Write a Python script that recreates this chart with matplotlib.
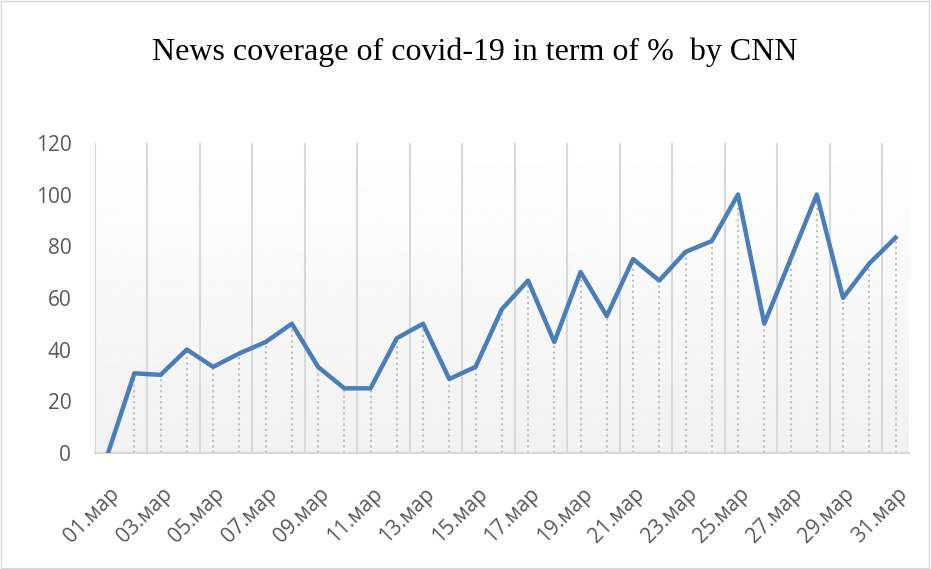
import numpy as np
import matplotlib
matplotlib.use('Agg')
import matplotlib.pyplot as plt
import matplotlib.transforms as mtransforms

# day of March and coverage share in %
days = list(range(1, 32))
coverage = [0, 30.8, 30.2, 40, 33.3, 38.5, 42.9, 50, 33.3, 25, 25,
            44.4, 50, 28.6, 33.3, 55.6, 66.7, 42.9, 70, 53, 75, 66.7,
            77.8, 82, 100, 50, 75, 100, 60, 73.3, 83.3]
tick_days = days[::2]
tick_labels = ['%02d.мар' % d for d in tick_days]

fig = plt.figure(figsize=(9.31, 5.69), dpi=100)
ax = fig.add_axes([0.102, 0.204, 0.874, 0.545])

# border round the whole chart
fig.patches.append(plt.Rectangle((0.001, 0.001), 0.997, 0.997, transform=fig.transFigure,
                                 fill=False, edgecolor='#d9d9d9', lw=1))

# soft grey gradient in plot area
grad = np.linspace(1.0, 0.945, 256).reshape(-1, 1)
ax.imshow(grad, cmap='gray', vmin=0, vmax=1, aspect='auto',
          extent=[0.5, 31.5, 0, 120], origin='upper', zorder=0)

# vertical gridlines every two days
for g in np.arange(0.5, 31.5, 2):
    ax.axvline(g, color='#d9d9d9', lw=1.5, zorder=1)

# drop lines from each point
ax.vlines(days, 0, coverage, colors='#bfbfbf', linestyles=':', lw=1.5, zorder=2)

ax.plot(days, coverage, color='#4a7ebb', lw=3.2, solid_joinstyle='round', zorder=3)

ax.set_xlim(0.5, 31.5)
ax.set_ylim(0, 120)
ax.set_yticks(np.arange(0, 121, 20))
ax.set_xticks(tick_days)
ax.set_xticklabels(tick_labels, rotation=45, ha='right', va='top', rotation_mode='anchor')

for s in ['top', 'right', 'left']:
    ax.spines[s].set_visible(False)
ax.spines['bottom'].set_color('#d9d9d9')
ax.spines['bottom'].set_linewidth(1.5)
ax.tick_params(length=0, labelsize=15, labelcolor='#595959')
ax.tick_params(axis='y', pad=17)
ax.tick_params(axis='x', pad=22)
shift = mtransforms.ScaledTranslation(1 / 100, 0, fig.dpi_scale_trans)
for lab in ax.get_xticklabels():
    lab.set_transform(lab.get_transform() + shift)
for lab in ax.get_xticklabels() + ax.get_yticklabels():
    lab.set_family('Open Sans')

fig.text(0.51, 0.908, 'News coverage of covid-19 in term of %  by CNN',
         ha='center', va='center', fontsize=23, family='Liberation Serif')

fig.savefig('out.png', dpi=100)
